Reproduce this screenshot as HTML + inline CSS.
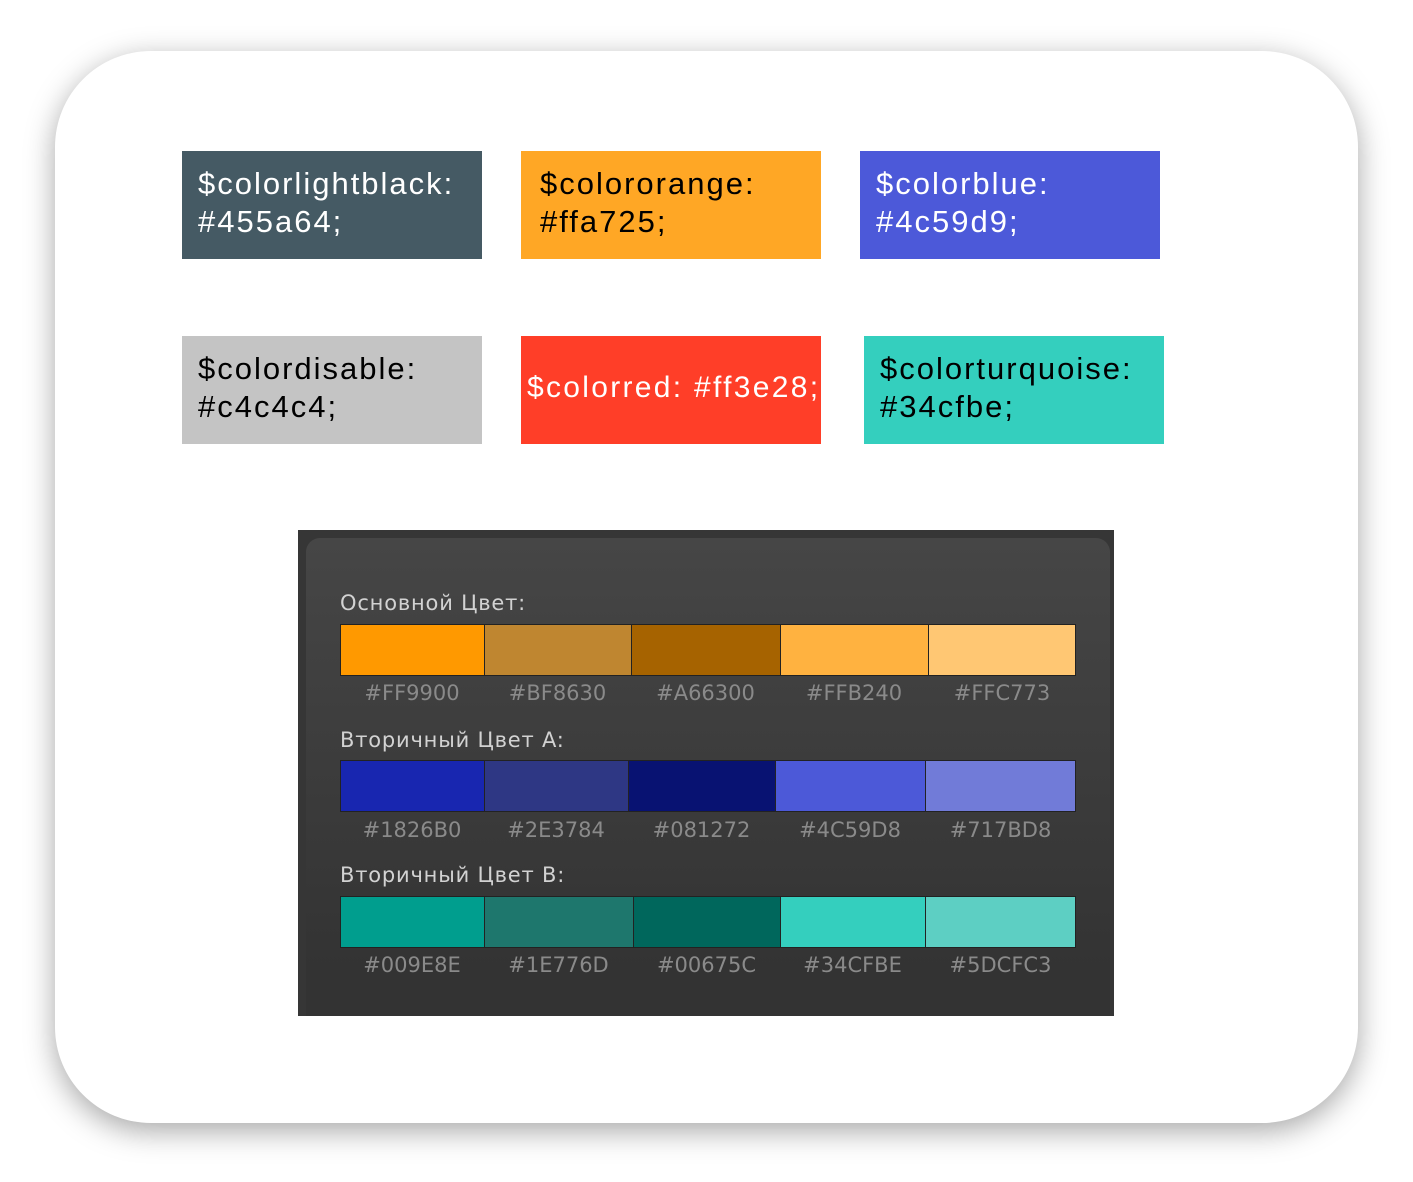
<!DOCTYPE html>
<html><head><meta charset="utf-8"><style>
html,body{margin:0;padding:0;width:1413px;height:1182px;background:#fff;overflow:hidden;font-family:"Liberation Sans",sans-serif}
.card{position:absolute;left:55px;top:51px;width:1303px;height:1072px;border-radius:96px;background:#fff;box-shadow:0 8px 30px rgba(0,0,0,.35)}
.b{position:absolute;width:300px;height:108px;box-sizing:border-box;padding:14px 0 0 16px;font-size:31px;line-height:38px;letter-spacing:2px;white-space:nowrap;overflow:hidden}
.p{position:absolute;left:298px;top:530px;width:816px;height:486px;background:#363636}
.in{position:absolute;left:8px;top:8px;width:804px;height:478px;border-radius:14px 14px 0 0;background:linear-gradient(#464646,#333 90%)}
.h{position:absolute;left:340px;color:#d2d2d2;font-family:"DejaVu Sans",sans-serif;font-size:21px;letter-spacing:.8px}
.s{position:absolute;height:52px;box-sizing:border-box;border:1px solid #222}
.l{position:absolute;color:#8a8a8a;font-family:"DejaVu Sans",sans-serif;font-size:21px;text-align:center}
</style></head><body>
<div class="card"></div>
<div class="b" style="left:182px;top:151px;background:#455a64;color:#fff">$colorlightblack:<br>#455a64;</div>
<div class="b" style="left:521px;top:151px;background:#ffa725;color:#000;padding-left:19px">$colororange:<br>#ffa725;</div>
<div class="b" style="left:860px;top:151px;background:#4c59d9;color:#fff">$colorblue:<br>#4c59d9;</div>
<div class="b" style="left:182px;top:336px;background:#c4c4c4;color:#000">$colordisable:<br>#c4c4c4;</div>
<div class="b" style="left:521px;top:336px;background:#ff3e28;color:#fff;padding:33px 0 0 6px;font-size:30px;letter-spacing:2.3px">$colorred: #ff3e28;</div>
<div class="b" style="left:864px;top:336px;background:#34cfbe;color:#000">$colorturquoise:<br>#34cfbe;</div>
<div class="p"><div class="in"></div></div>
<div class="h" style="top:591px">Основной Цвет:</div>
<div class="h" style="top:728px">Вторичный Цвет A:</div>
<div class="h" style="top:863px">Вторичный Цвет B:</div>
<div class="s" style="left:340px;top:624px;width:145px;background:#FF9900"></div>
<div class="s" style="left:484px;top:624px;width:148px;background:#BF8630"></div>
<div class="s" style="left:631px;top:624px;width:150px;background:#A66300"></div>
<div class="s" style="left:780px;top:624px;width:149px;background:#FFB240"></div>
<div class="s" style="left:928px;top:624px;width:148px;background:#FFC773"></div>
<div class="l" style="left:340px;top:681px;width:144px">#FF9900</div>
<div class="l" style="left:484px;top:681px;width:147px">#BF8630</div>
<div class="l" style="left:631px;top:681px;width:149px">#A66300</div>
<div class="l" style="left:780px;top:681px;width:148px">#FFB240</div>
<div class="l" style="left:928px;top:681px;width:148px">#FFC773</div>
<div class="s" style="left:340px;top:760px;width:145px;background:#1826B0"></div>
<div class="s" style="left:484px;top:760px;width:145px;background:#2E3784"></div>
<div class="s" style="left:628px;top:760px;width:148px;background:#081272"></div>
<div class="s" style="left:775px;top:760px;width:151px;background:#4C59D8"></div>
<div class="s" style="left:925px;top:760px;width:151px;background:#717BD8"></div>
<div class="l" style="left:340px;top:818px;width:144px">#1826B0</div>
<div class="l" style="left:484px;top:818px;width:144px">#2E3784</div>
<div class="l" style="left:628px;top:818px;width:147px">#081272</div>
<div class="l" style="left:775px;top:818px;width:150px">#4C59D8</div>
<div class="l" style="left:925px;top:818px;width:151px">#717BD8</div>
<div class="s" style="left:340px;top:896px;width:145px;background:#009E8E"></div>
<div class="s" style="left:484px;top:896px;width:150px;background:#1E776D"></div>
<div class="s" style="left:633px;top:896px;width:148px;background:#00675C"></div>
<div class="s" style="left:780px;top:896px;width:146px;background:#34CFBE"></div>
<div class="s" style="left:925px;top:896px;width:151px;background:#5DCFC3"></div>
<div class="l" style="left:340px;top:953px;width:144px">#009E8E</div>
<div class="l" style="left:484px;top:953px;width:149px">#1E776D</div>
<div class="l" style="left:633px;top:953px;width:147px">#00675C</div>
<div class="l" style="left:780px;top:953px;width:145px">#34CFBE</div>
<div class="l" style="left:925px;top:953px;width:151px">#5DCFC3</div>
</body></html>
